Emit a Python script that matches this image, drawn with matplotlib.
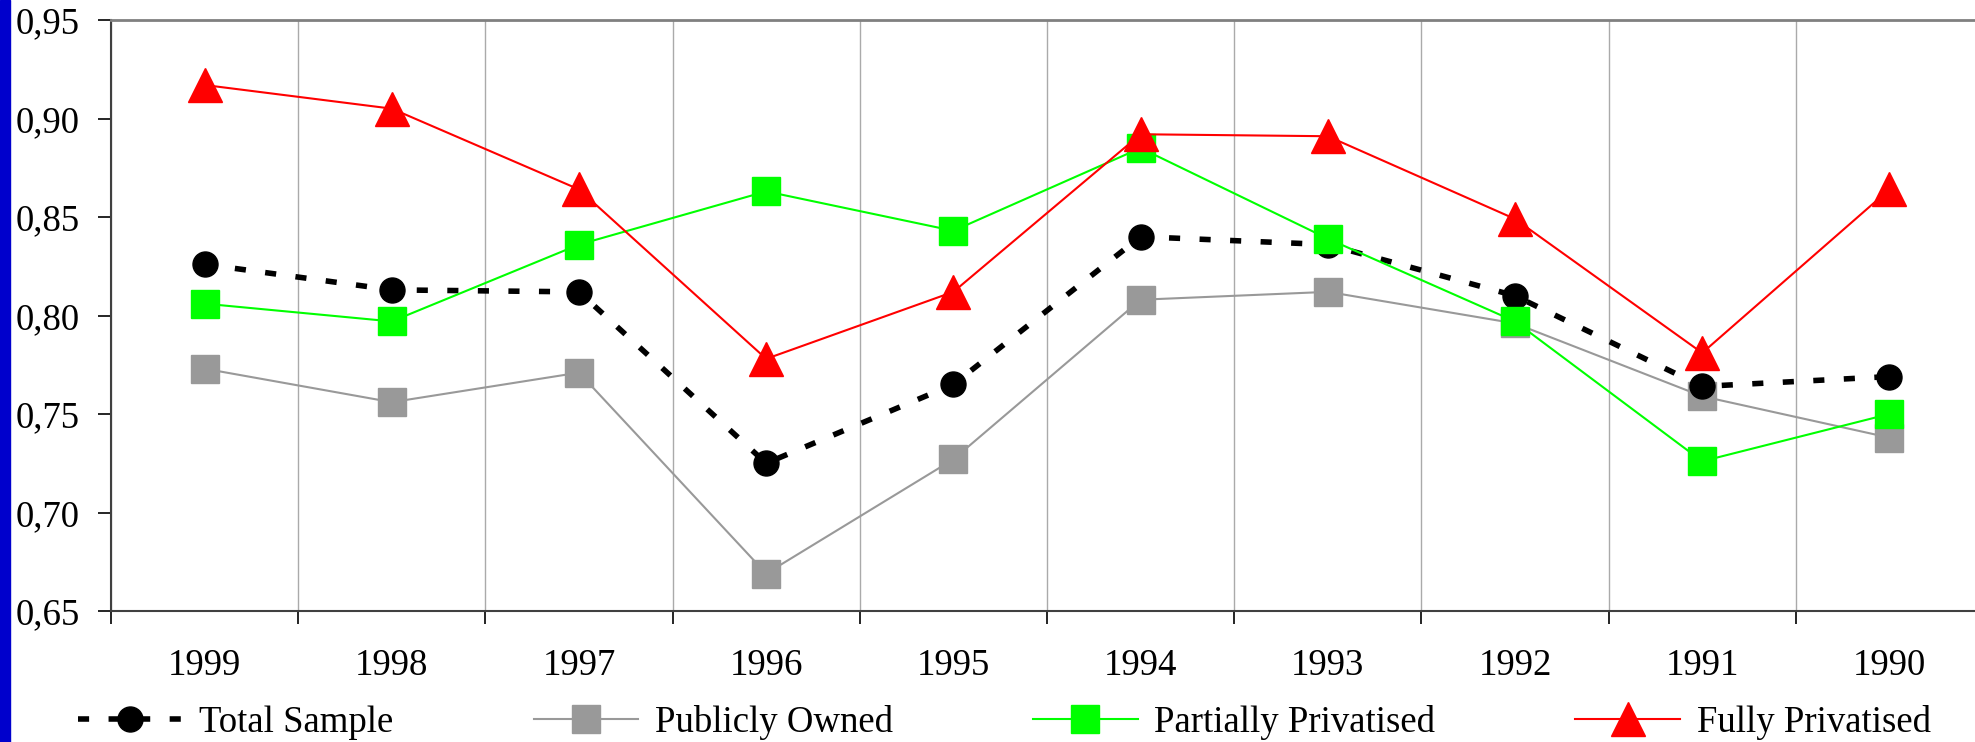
import numpy as np
import matplotlib
matplotlib.use("Agg")
from matplotlib import pyplot as plt
from matplotlib.patches import Rectangle
from matplotlib.ticker import FuncFormatter

years = ["1999", "1998", "1997", "1996", "1995", "1994", "1993", "1992", "1991", "1990"]
total_sample = [0.826, 0.813, 0.812, 0.725, 0.765, 0.840, 0.836, 0.810, 0.764, 0.769]
publicly_owned = [0.773, 0.756, 0.771, 0.669, 0.727, 0.808, 0.812, 0.796, 0.759, 0.738]
partially_priv = [0.806, 0.797, 0.836, 0.863, 0.843, 0.885, 0.839, 0.797, 0.726, 0.750]
fully_priv = [0.917, 0.905, 0.864, 0.778, 0.812, 0.892, 0.891, 0.849, 0.781, 0.864]

plt.rcParams['font.family'] = ['Liberation Serif', 'DejaVu Serif']
fs = 26.5

fig = plt.figure(figsize=(19.75, 7.42), dpi=100)
fig.patches.append(Rectangle((0, 0), 10 / 1975, 1, transform=fig.transFigure,
                             color='#0000CC', zorder=0))
ax = fig.add_axes([111 / 1975, 1 - 611 / 742, 1872 / 1975, (611 - 20) / 742])

x = np.arange(len(years))
ax.plot(x, total_sample, color='black', lw=4, dashes=(2, 3.5), marker='o', ms=18,
        label='Total Sample', zorder=3)
ax.plot(x, publicly_owned, color='#999999', lw=1.5, marker='s', ms=20,
        label='Publicly Owned', zorder=2)
ax.plot(x, partially_priv, color='#00FF00', lw=1.5, marker='s', ms=20,
        label='Partially Privatised', zorder=4)
ax.plot(x, fully_priv, color='#FF0000', lw=1.5, marker='^', ms=24,
        label='Fully Privatised', zorder=5)

ax.set_xlim(-0.5, len(years) - 0.5)
ax.set_ylim(0.65, 0.95)
ax.set_yticks(np.arange(0.65, 0.951, 0.05))
ax.yaxis.set_major_formatter(FuncFormatter(lambda v, p: f"{v:.2f}".replace('.', ',')))
ax.set_xticks(x)
ax.set_xticklabels(years)
ax.set_xticks(np.arange(-0.5, len(years), 1.0), minor=True)
ax.tick_params(axis='x', which='major', length=0, pad=27, labelsize=fs)
ax.tick_params(axis='x', which='minor', length=9.5, width=1.2, direction='out')
ax.tick_params(axis='y', length=9.5, width=1.2, pad=13, labelsize=fs)
ax.grid(axis='x', which='minor', color='#AAAAAA', lw=1)

ax.spines['top'].set_color('#808080')
ax.spines['top'].set_linewidth(2)
ax.spines['right'].set_visible(False)
ax.spines['left'].set_color('#404040')
ax.spines['left'].set_linewidth(1.5)
ax.spines['bottom'].set_color('#404040')
ax.spines['bottom'].set_linewidth(1.5)

fig.legend(loc='center left', bbox_to_anchor=(78 / 1975, 1 - 722 / 742), ncol=4,
           frameon=False, fontsize=fs, handlelength=2.85, handletextpad=0.45,
           columnspacing=3.8, borderaxespad=0, borderpad=0)

fig.savefig('out.png', dpi=100)
